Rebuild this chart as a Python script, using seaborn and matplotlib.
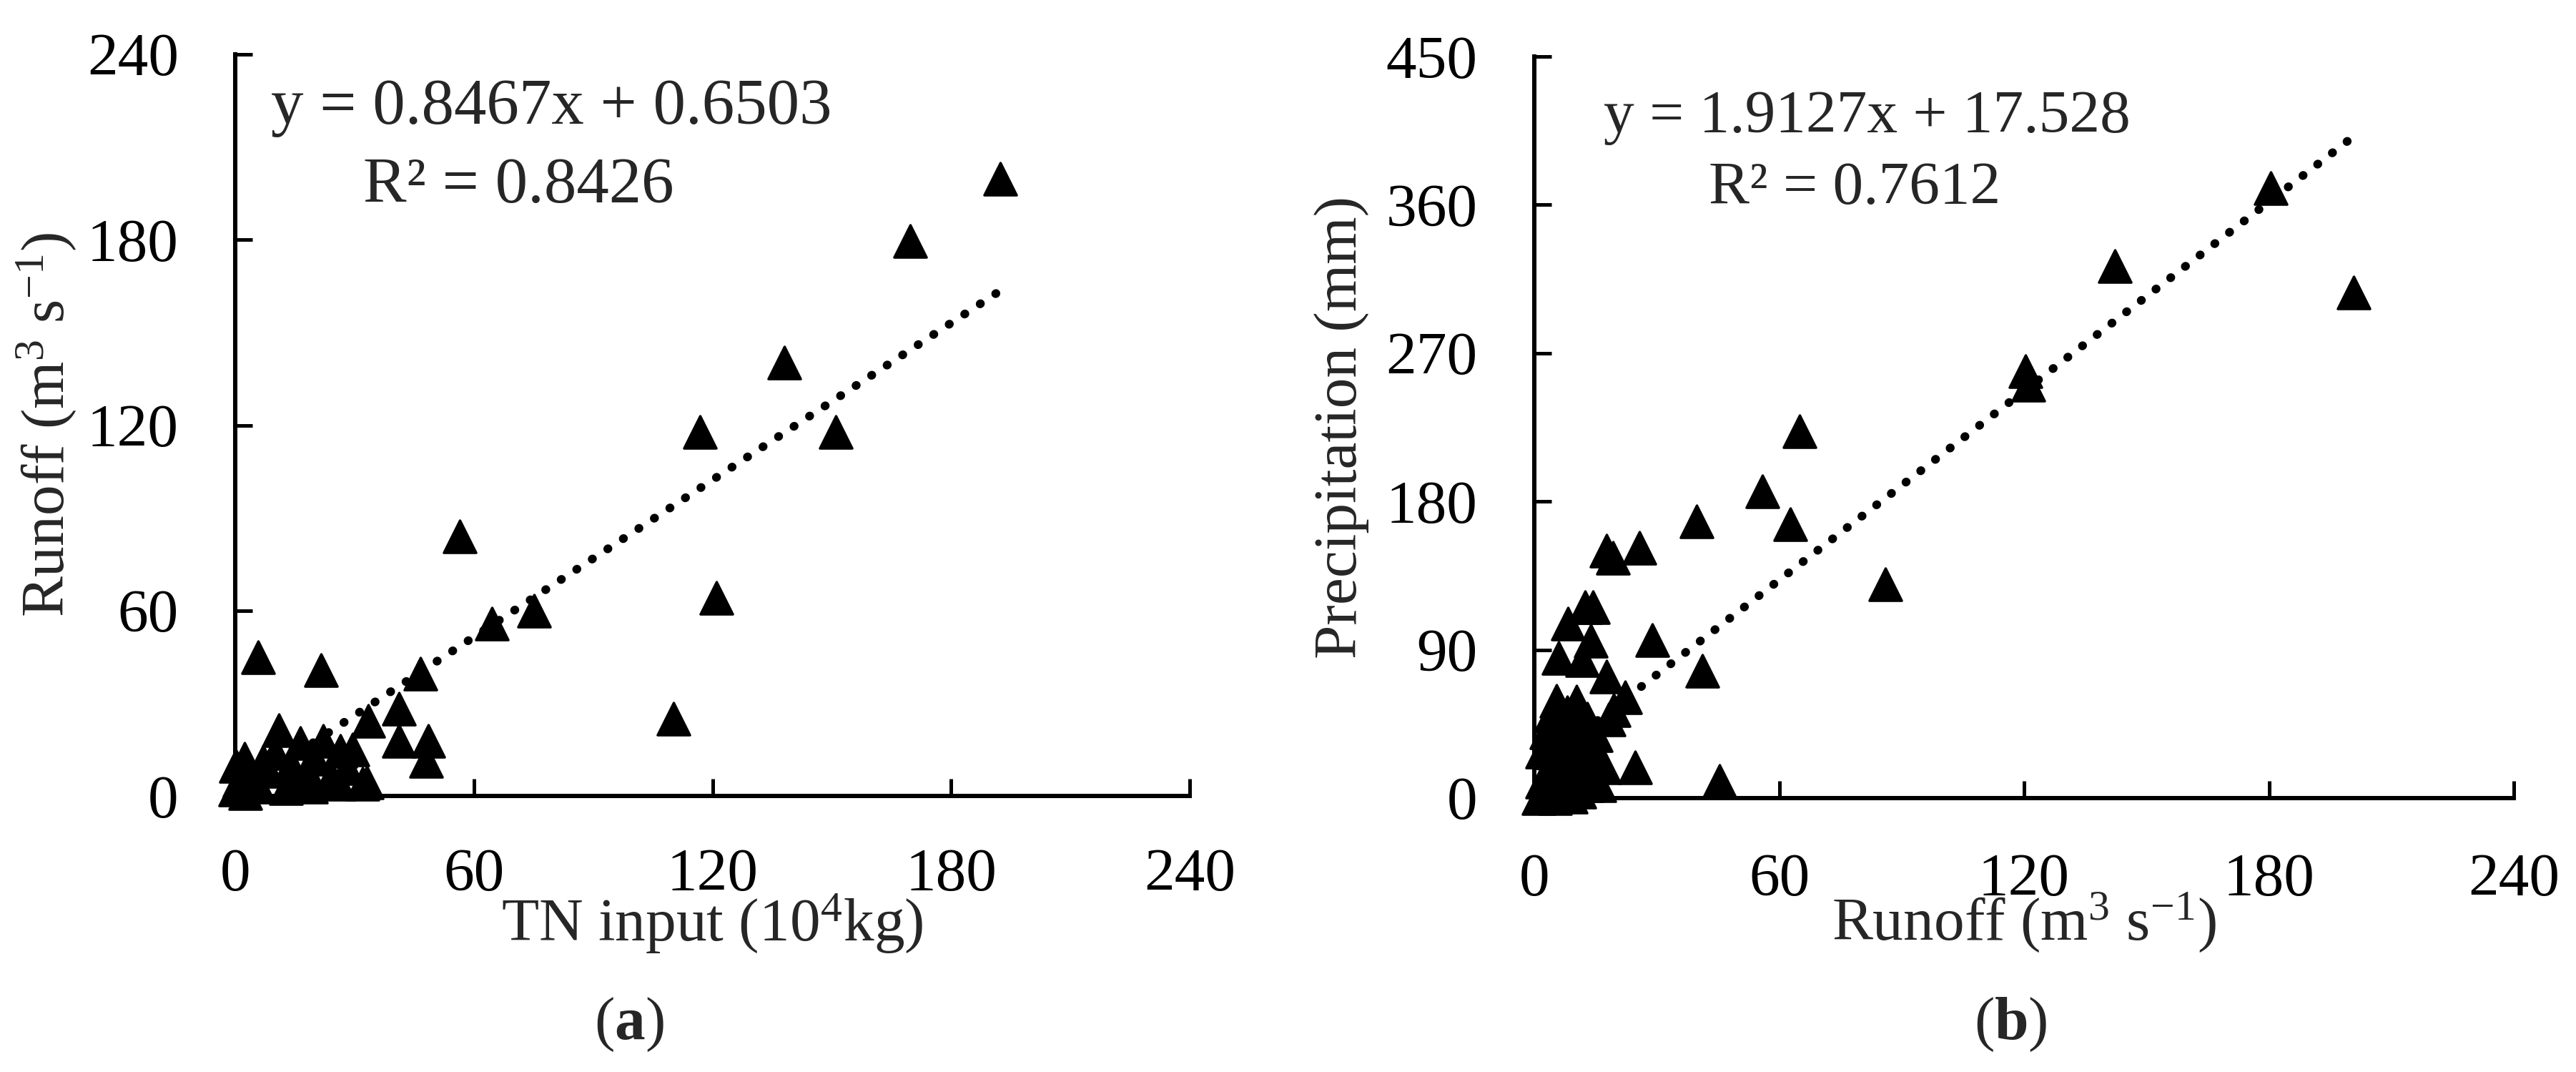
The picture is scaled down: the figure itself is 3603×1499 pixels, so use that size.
import numpy as np
import pandas as pd
import matplotlib
matplotlib.use("Agg")
import matplotlib.pyplot as plt
import seaborn as sns

# ---------------- data ----------------
# Panel (a): TN input (10^4 kg) vs Runoff (m3 s-1)
tn_input = [192.4, 169.7, 138.0, 116.9, 151.0, 121.0, 110.2, 56.5, 64.5, 75.1,
            46.6, 41.1, 41.1, 48.6, 48.0, 33.4, 33.1, 21.5, 5.7, 11.0,
            16.4, 22.1, 26.5, 29.5, 2.3, 0.2, 12.8, 2.5, 0.0, 1.0,
            4.0, 6.0, 8.0, 10.0, 14.0, 15.0, 18.0, 20.0, 24.0, 28.0,
            32.0, 7.0, 19.0, 26.0]
runoff_a = [199.8, 179.6, 140.3, 117.9, 117.9, 64.0, 25.0, 84.0, 55.7, 59.9,
            39.5, 28.3, 17.8, 17.8, 11.3, 24.4, 4.3, 40.8, 44.9, 21.3,
            17.1, 17.8, 14.5, 15.1, 12.0, 9.7, 2.5, 1.0, 2.0, 5.0,
            6.0, 3.0, 8.0, 14.0, 10.0, 5.0, 8.0, 12.0, 6.0, 9.0,
            4.0, 11.0, 3.0, 4.0]

# Panel (b): Runoff (m3 s-1) vs Precipitation (mm)
runoff_b = [200.7, 180.5, 142.2, 120.4, 121.0, 86.1, 65.0, 55.9, 62.7, 39.7,
            41.2, 45.3, 28.9, 25.8, 17.7, 19.2, 24.7, 17.1, 22.3, 19.4,
            18.2, 17.7, 14.4, 12.4, 8.3, 13.9, 6.0, 11.8, 5.4, 10.4,
            1.0, 3.0, 5.0, 7.0, 9.0, 11.0, 13.0, 2.0, 6.0, 10.0,
            4.0, 8.0, 12.0, 2.0, 6.0, 10.0, 14.0, 3.0, 7.0, 11.0,
            15.0, 4.0, 8.0, 13.0, 16.0, 15.0]
precip_b = [307.0, 370.0, 323.0, 259.0, 251.0, 129.6, 222.6, 186.0, 166.0, 168.0,
            77.4, 10.3, 95.7, 151.9, 150.0, 146.0, 18.7, 18.7, 61.3, 53.5,
            47.8, 73.9, 115.7, 115.7, 105.7, 95.4, 85.2, 83.9, 59.1, 58.4,
            0.0, 2.0, 0.0, 3.0, 1.0, 4.0, 8.0, 10.0, 12.0, 14.0,
            20.0, 22.0, 25.0, 28.0, 32.0, 34.0, 30.0, 40.0, 45.0, 42.0,
            38.0, 50.0, 52.0, 48.0, 8.0, 20.0]

# trend-line equations printed on the chart
slope_a, intercept_a, r2_a = 0.8467, 0.6503, 0.8426
slope_b, intercept_b, r2_b = 1.9127, 17.528, 0.7612

xticks_a = [0, 60, 120, 180, 240]
yticks_a = [0, 60, 120, 180, 240]
xticks_b = [0, 60, 120, 180, 240]
yticks_b = [0, 90, 180, 270, 360, 450]

# ---------------- style ----------------
sns.set_theme(style="ticks")
plt.rcParams["font.family"] = ["Liberation Serif", "DejaVu Serif"]
plt.rcParams["mathtext.fontset"] = "custom"
plt.rcParams["mathtext.rm"] = "Liberation Serif"
plt.rcParams["mathtext.it"] = "Liberation Serif:italic"
plt.rcParams["mathtext.bf"] = "Liberation Serif:bold"
plt.rcParams["axes.unicode_minus"] = True

FS = 20.5
FS_EQ_A = 21.8
FS_EQ_B = 20.5
W, H = 3603, 1499
DPI = 300
fig = plt.figure(figsize=(W / DPI, H / DPI), dpi=DPI)
fig.patch.set_facecolor("white")

axA = fig.add_axes([329 / W, 1 - 1113 / H, (1664 - 329) / W, (1113 - 76) / H])
axB = fig.add_axes([2146 / W, 1 - 1116 / H, (3516 - 2146) / W, (1116 - 79) / H])

df_a = pd.DataFrame({"x": tn_input, "y": runoff_a})
df_b = pd.DataFrame({"x": runoff_b, "y": precip_b})


def draw(ax, df, slope, intercept, xticks, yticks, xpad):
    # trend line from the printed equation, over the data range
    xs = np.array([df["x"].min(), df["x"].max()])
    line_df = pd.DataFrame({"x": xs, "y": slope * xs + intercept})
    sns.lineplot(data=line_df, x="x", y="y", ax=ax, color="black",
                 linewidth=2.9, linestyle=(0, (0.05, 2.1)),
                 dash_capstyle="round", zorder=2)
    sns.scatterplot(data=df, x="x", y="y", ax=ax, marker="^", s=118,
                    color="black", edgecolor="black", linewidth=0.8,
                    clip_on=False, zorder=3, legend=False)
    ax.set_xlim(xticks[0], xticks[-1])
    ax.set_ylim(yticks[0], yticks[-1])
    ax.set_xticks(xticks)
    ax.set_yticks(yticks)
    for s in ["top", "right"]:
        ax.spines[s].set_visible(False)
    for s in ["left", "bottom"]:
        ax.spines[s].set_linewidth(1.45)
        ax.spines[s].set_color("black")
    ax.tick_params(axis="both", direction="in", length=5.8, width=1.2,
                   colors="black", labelsize=FS)
    ax.tick_params(axis="x", pad=xpad)
    ax.tick_params(axis="y", pad=19)
    ax.set_facecolor("white")


draw(axA, df_a, slope_a, intercept_a, xticks_a, yticks_a, 17.5)
draw(axB, df_b, slope_b, intercept_b, xticks_b, yticks_b, 18.5)

# axis labels
axA.set_xlabel("TN input (10$^4$kg)", fontsize=FS)
axA.set_ylabel("Runoff (m$^3$ s$^{-1}$)", fontsize=FS)
axB.set_xlabel("Runoff (m$^3$ s$^{-1}$)", fontsize=FS)
axB.set_ylabel("Precipitation (mm)", fontsize=FS)
for ax, xl_y, yl_x in [(axA, -0.172, -0.198), (axB, -0.168, -0.197)]:
    ax.xaxis.label.set_verticalalignment("center")
    ax.xaxis.set_label_coords(0.5, xl_y)
    ax.yaxis.label.set_verticalalignment("center")
    ax.yaxis.set_label_coords(yl_x, 0.5)

# equations
fig.text(379 / W, 1 - 173 / H, f"y = {slope_a}x + {intercept_a}", fontsize=FS_EQ_A,
         ha="left", va="baseline")
fig.text(508 / W, 1 - 283 / H, f"R² = {r2_a}", fontsize=FS_EQ_A, ha="left", va="baseline")
fig.text(2243 / W, 1 - 185 / H, f"y = {slope_b}x + {intercept_b}", fontsize=FS_EQ_B,
         ha="left", va="baseline")
fig.text(2390 / W, 1 - 285 / H, f"R² = {r2_b}", fontsize=FS_EQ_B, ha="left", va="baseline")

# panel labels
fig.text(880 / W, 1 - 1433 / H, r"($\mathbf{a}$)", fontsize=FS, ha="center", va="center")
fig.text(2812 / W, 1 - 1433 / H, r"($\mathbf{b}$)", fontsize=FS, ha="center", va="center")

fig.savefig("out.png", dpi=DPI, facecolor="white")
